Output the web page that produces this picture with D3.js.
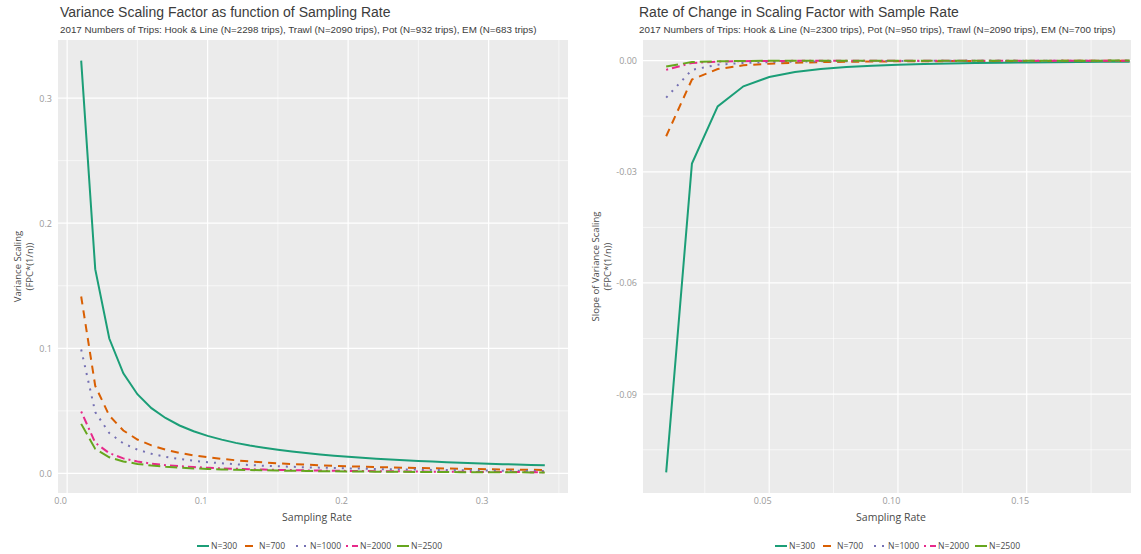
<!DOCTYPE html>
<html>
<head>
<meta charset="utf-8">
<title>Variance Scaling Factor</title>
<script src="https://d3js.org/d3.v7.min.js"></script>
<style>
  body { margin: 0; background: #fff; }
  text { font-family: "Open Sans", "Liberation Sans", sans-serif; }
</style>
</head>
<body>
<script>
// data
var seriesNames = ["N=300", "N=700", "N=1000", "N=2000", "N=2500"];
var colors = ["#1B9E77", "#D95F02", "#7570B3", "#E7298A", "#66A61E"];
var dashes = [null, "8,6", "2,6", "2,4,8,4", "12,5"];

// left panel: sampling rate 0.01 .. 0.34
var rateLeft = [0.01,0.02,0.03,0.04,0.05,0.06,0.07,0.08,0.09,0.10,0.11,0.12,0.13,0.14,0.15,0.16,0.17,
  0.18,0.19,0.20,0.21,0.22,0.23,0.24,0.25,0.26,0.27,0.28,0.29,0.30,0.31,0.32,0.33,0.34];
var scale300 = [0.3300,0.1633,0.1078,0.0800,0.0633,0.0522,0.0443,0.0383,0.0337,0.0300,0.0270,0.0244,0.0223,0.0205,0.0189,0.0175,0.0163,
  0.0152,0.0142,0.0133,0.0125,0.0118,0.0112,0.0106,0.0100,0.0095,0.0090,0.0086,0.0082,0.0078,0.0074,0.0071,0.0068,0.0065];
var scale700 = [0.1414,0.0700,0.0462,0.0343,0.0271,0.0224,0.0190,0.0164,0.0144,0.0129,0.0116,0.0105,0.0096,0.0088,0.0081,0.0075,0.0070,
  0.0065,0.0061,0.0057,0.0054,0.0051,0.0048,0.0045,0.0043,0.0041,0.0039,0.0037,0.0035,0.0033,0.0032,0.0030,0.0029,0.0028];
var scale1000 = [0.0990,0.0490,0.0323,0.0240,0.0190,0.0157,0.0133,0.0115,0.0101,0.0090,0.0081,0.0073,0.0067,0.0061,0.0057,0.0053,0.0049,
  0.0046,0.0043,0.0040,0.0038,0.0035,0.0033,0.0032,0.0030,0.0028,0.0027,0.0026,0.0024,0.0023,0.0022,0.0021,0.0020,0.0019];
var scale2000 = [0.0495,0.0245,0.0162,0.0120,0.0095,0.0078,0.0066,0.0058,0.0051,0.0045,0.0040,0.0037,0.0033,0.0031,0.0028,0.0026,0.0024,
  0.0023,0.0021,0.0020,0.0019,0.0018,0.0017,0.0016,0.0015,0.0014,0.0014,0.0013,0.0012,0.0012,0.0011,0.0011,0.0010,0.0010];
var scale2500 = [0.0396,0.0196,0.0129,0.0096,0.0076,0.0063,0.0053,0.0046,0.0040,0.0036,0.0032,0.0029,0.0027,0.0025,0.0023,0.0021,0.0020,
  0.0018,0.0017,0.0016,0.0015,0.0014,0.0013,0.0013,0.0012,0.0011,0.0011,0.0010,0.0010,0.0009,0.0009,0.0009,0.0008,0.0008];

// right panel: sampling rate 0.01 .. 0.19
var rateRight = [0.01,0.02,0.03,0.04,0.05,0.06,0.07,0.08,0.09,0.10,0.11,0.12,0.13,0.14,0.15,0.16,0.17,0.18,0.19];
var slope300 = [-0.11111,-0.02778,-0.01235,-0.00694,-0.00444,-0.00309,-0.00227,-0.00174,-0.00137,-0.00111,-0.00092,-0.00077,-0.00066,-0.00057,-0.00049,-0.00043,-0.00038,-0.00034,-0.00031];
var slope700 = [-0.02041,-0.00510,-0.00227,-0.00128,-0.00082,-0.00057,-0.00042,-0.00032,-0.00025,-0.00020,-0.00017,-0.00014,-0.00012,-0.00010,-0.00009,-0.00008,-0.00007,-0.00006,-0.00006];
var slope1000 = [-0.01000,-0.00250,-0.00111,-0.00063,-0.00040,-0.00028,-0.00020,-0.00016,-0.00012,-0.00010,-0.00008,-0.00007,-0.00006,-0.00005,-0.00004,-0.00004,-0.00003,-0.00003,-0.00003];
var slope2000 = [-0.00250,-0.00063,-0.00028,-0.00016,-0.00010,-0.00007,-0.00005,-0.00004,-0.00003,-0.00003,-0.00002,-0.00002,-0.00001,-0.00001,-0.00001,-0.00001,-0.00001,-0.00001,-0.00001];
var slope2500 = [-0.00160,-0.00040,-0.00018,-0.00010,-0.00006,-0.00004,-0.00003,-0.00003,-0.00002,-0.00002,-0.00001,-0.00001,-0.00001,-0.00001,-0.00001,-0.00001,-0.00001,-0.00001,0.00000];

var leftTicksX = [0, 0.1, 0.2, 0.3];
var leftMinorX = [0.05, 0.15, 0.25, 0.35];
var leftTicksY = [0, 0.1, 0.2, 0.3];
var leftMinorY = [0.05, 0.15, 0.25];
var rightTicksX = [0.05, 0.10, 0.15];
var rightMinorX = [0.025, 0.075, 0.125, 0.175];
var rightTicksY = [0, -0.03, -0.06, -0.09];
var rightMinorY = [-0.015, -0.045, -0.075, -0.105];

var W = 1141, H = 554;
var svg = d3.select("body").append("svg").attr("width", W).attr("height", H);

function expand(lo, hi) {
  var e = (hi - lo) * 0.05;
  return [lo - e, hi + e];
}

function drawPanel(p) {
  var g = svg.append("g");
  var xd = expand(d3.min(p.rate), d3.max(p.rate));
  if (p.xMax) xd[1] = p.xMax;   // right edge of the panel is cut in the original
  var x = d3.scaleLinear().domain(xd).range([p.x0, p.x1]);
  var all = d3.merge(p.series);
  var y = d3.scaleLinear().domain(expand(d3.min(all), d3.max(all))).range([p.y1, p.y0]);

  // titles
  g.append("text").attr("x", p.titleX).attr("y", 17).attr("font-size", 14)
    .attr("fill", "#3c3c3c").style("font-family", "Liberation Sans, Arial, sans-serif").text(p.title);
  g.append("text").attr("x", p.titleX).attr("y", 33).attr("font-size", 9.8)
    .attr("fill", "#3c3c3c").style("font-family", "Liberation Sans, Arial, sans-serif").text(p.subtitle);

  // panel background + grid
  g.append("rect").attr("x", p.x0).attr("y", p.y0).attr("width", p.x1 - p.x0).attr("height", p.y1 - p.y0)
    .attr("fill", "#EBEBEB");
  g.selectAll(".minx").data(p.minorX).enter().append("line")
    .attr("x1", x).attr("x2", x).attr("y1", p.y0).attr("y2", p.y1)
    .attr("stroke", "#fff").attr("stroke-width", 0.6);
  g.selectAll(".miny").data(p.minorY).enter().append("line")
    .attr("y1", y).attr("y2", y).attr("x1", p.x0).attr("x2", p.x1)
    .attr("stroke", "#fff").attr("stroke-width", 0.6);
  g.selectAll(".majx").data(p.ticksX).enter().append("line")
    .attr("x1", x).attr("x2", x).attr("y1", p.y0).attr("y2", p.y1)
    .attr("stroke", "#fff").attr("stroke-width", 1.2);
  g.selectAll(".majy").data(p.ticksY).enter().append("line")
    .attr("y1", y).attr("y2", y).attr("x1", p.x0).attr("x2", p.x1)
    .attr("stroke", "#fff").attr("stroke-width", 1.2);

  // axes (labels only, ggplot style)
  var xa = g.append("g").attr("transform", "translate(0," + p.y1 + ")")
    .call(d3.axisBottom(x).tickValues(p.ticksX).tickFormat(d3.format(p.fmtX)).tickSize(0).tickPadding(5));
  var ya = g.append("g").attr("transform", "translate(" + p.x0 + ",0)")
    .call(d3.axisLeft(y).tickValues(p.ticksY).tickFormat(function(d) { return d3.format(p.fmtY)(d).replace("\u2212", "-"); })
      .tickSize(0).tickPadding(6));
  [xa, ya].forEach(function(a) {
    a.select(".domain").remove();
    a.selectAll("text").attr("fill", "#9a9a9a").attr("font-size", 9)
      .style("font-family", "Open Sans, sans-serif");
  });
  xa.selectAll("text").attr("dx", -7);

  // axis titles
  g.append("text").attr("x", (p.x0 + p.x1) / 2 + 4).attr("y", 521).attr("text-anchor", "middle")
    .attr("font-size", 10.5).attr("fill", "#4a4a4a").text("Sampling Rate");
  var yt = g.append("text").attr("transform", "translate(" + (p.x0 - p.ytOff) + "," + ((p.y0 + p.y1) / 2) + ") rotate(-90)")
    .attr("text-anchor", "middle").attr("font-size", 9.5).attr("fill", "#4a4a4a");
  yt.append("tspan").attr("x", 0).attr("dy", 0).text(p.ytitle);
  yt.append("tspan").attr("x", 0).attr("dy", 12).text("(FPC*(1/n))");

  // lines
  var line = d3.line().x(function(d, i) { return x(p.rate[i]); }).y(function(d) { return y(d); });
  p.series.forEach(function(s, k) {
    g.append("path").datum(s).attr("d", line).attr("fill", "none")
      .attr("stroke", colors[k]).attr("stroke-width", 2)
      .attr("stroke-dasharray", dashes[k]);
  });

  // legend at bottom
  var widths = [48, 51, 50, 51, 51];
  var lx = p.legendX;
  var lg = g.append("g").attr("transform", "translate(0,546)");
  seriesNames.forEach(function(n, k) {
    lg.append("line").attr("x1", lx).attr("x2", lx + 12).attr("y1", 0).attr("y2", 0)
      .attr("stroke", colors[k]).attr("stroke-width", 2).attr("stroke-dasharray", dashes[k]);
    lg.append("text").attr("x", lx + 14).attr("y", 3.3).attr("font-size", 8.6).attr("fill", "#4a4a4a").text(n);
    lx += widths[k];
  });
}

drawPanel({
  x0: 58, x1: 568, y0: 40, y1: 493,
  rate: rateLeft, series: [scale300, scale700, scale1000, scale2000, scale2500],
  ticksX: leftTicksX, minorX: leftMinorX, ticksY: leftTicksY, minorY: leftMinorY,
  fmtX: ".1f", fmtY: ".1f",
  title: "Variance Scaling Factor as function of Sampling Rate",
  subtitle: "2017 Numbers of Trips: Hook & Line (N=2298 trips), Trawl (N=2090 trips), Pot (N=932 trips), EM (N=683 trips)",
  ytitle: "Variance Scaling", ytOff: 37, legendX: 197, titleX: 60
});

drawPanel({
  x0: 643, x1: 1131, y0: 40, y1: 493,
  rate: rateRight, series: [slope300, slope700, slope1000, slope2000, slope2500], xMax: 0.1905,
  ticksX: rightTicksX, minorX: rightMinorX, ticksY: rightTicksY, minorY: rightMinorY,
  fmtX: ".2f", fmtY: ".2f",
  title: "Rate of Change in Scaling Factor with Sample Rate",
  subtitle: "2017 Numbers of Trips: Hook & Line (N=2300 trips), Pot (N=950 trips), Trawl (N=2090 trips), EM (N=700 trips)",
  ytitle: "Slope of Variance Scaling", ytOff: 44, legendX: 775, titleX: 639
});
</script>
</body>
</html>
